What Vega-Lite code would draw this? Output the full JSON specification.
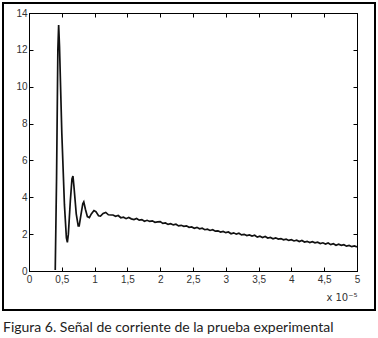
{
  "$schema": "https://vega.github.io/schema/vega-lite/v6.json",
  "width": 328,
  "height": 258,
  "autosize": "none",
  "padding": {"left": 29, "top": 13, "right": 21, "bottom": 67},
  "background": "white",
  "config": {
    "view": {"stroke": "black", "strokeWidth": 1},
    "axis": {"domainColor": "black", "tickColor": "black", "labelFont": "Liberation Sans", "labelFontSize": 10, "labelColor": "#333", "grid": false}
  },
  "title": {
    "text": "Figura 6. Señal de corriente de la prueba experimental",
    "orient": "bottom",
    "anchor": "start",
    "frame": "group",
    "dx": -26,
    "offset": 10,
    "font": "Lato",
    "fontSize": 14,
    "fontWeight": "normal",
    "color": "#222"
  },
  "data": {"values": [
    {"x": 0.400, "y": 0.05}, {"x": 0.420, "y": 5.0}, {"x": 0.440, "y": 12.0}, {"x": 0.452, "y": 13.35},
    {"x": 0.465, "y": 12.2}, {"x": 0.50, "y": 7.5}, {"x": 0.54, "y": 3.6}, {"x": 0.57, "y": 1.8},
    {"x": 0.585, "y": 1.55}, {"x": 0.60, "y": 2.0}, {"x": 0.63, "y": 3.8}, {"x": 0.655, "y": 5.0},
    {"x": 0.67, "y": 5.15}, {"x": 0.685, "y": 4.6}, {"x": 0.72, "y": 3.1}, {"x": 0.75, "y": 2.45},
    {"x": 0.765, "y": 2.45}, {"x": 0.79, "y": 3.0}, {"x": 0.82, "y": 3.65}, {"x": 0.835, "y": 3.75},
    {"x": 0.86, "y": 3.35}, {"x": 0.89, "y": 2.95}, {"x": 0.92, "y": 2.9}, {"x": 0.95, "y": 3.1},
    {"x": 0.99, "y": 3.28}, {"x": 1.02, "y": 3.22}, {"x": 1.06, "y": 3.0}, {"x": 1.09, "y": 2.98},
    {"x": 1.13, "y": 3.12}, {"x": 1.17, "y": 3.18}, {"x": 1.21, "y": 3.05}, {"x": 1.25, "y": 3.04},
    {"x": 1.28, "y": 3.04}, {"x": 1.32, "y": 2.97}, {"x": 1.36, "y": 3.01}, {"x": 1.40, "y": 2.89},
    {"x": 1.44, "y": 2.92}, {"x": 1.48, "y": 2.84}, {"x": 1.52, "y": 2.90}, {"x": 1.56, "y": 2.83},
    {"x": 1.60, "y": 2.79}, {"x": 1.64, "y": 2.85}, {"x": 1.68, "y": 2.76}, {"x": 1.72, "y": 2.79},
    {"x": 1.76, "y": 2.70}, {"x": 1.80, "y": 2.75}, {"x": 1.84, "y": 2.69}, {"x": 1.88, "y": 2.72},
    {"x": 1.92, "y": 2.64}, {"x": 1.96, "y": 2.67}, {"x": 2.00, "y": 2.68}, {"x": 2.04, "y": 2.58},
    {"x": 2.08, "y": 2.61}, {"x": 2.12, "y": 2.53}, {"x": 2.16, "y": 2.57}, {"x": 2.20, "y": 2.50},
    {"x": 2.24, "y": 2.54}, {"x": 2.28, "y": 2.45}, {"x": 2.32, "y": 2.48}, {"x": 2.36, "y": 2.42},
    {"x": 2.40, "y": 2.45}, {"x": 2.44, "y": 2.37}, {"x": 2.48, "y": 2.39}, {"x": 2.52, "y": 2.32},
    {"x": 2.56, "y": 2.37}, {"x": 2.60, "y": 2.29}, {"x": 2.64, "y": 2.32}, {"x": 2.68, "y": 2.24},
    {"x": 2.72, "y": 2.27}, {"x": 2.76, "y": 2.20}, {"x": 2.80, "y": 2.24}, {"x": 2.84, "y": 2.16},
    {"x": 2.88, "y": 2.18}, {"x": 2.92, "y": 2.11}, {"x": 2.96, "y": 2.15}, {"x": 3.00, "y": 2.08},
    {"x": 3.04, "y": 2.12}, {"x": 3.08, "y": 2.02}, {"x": 3.12, "y": 2.07}, {"x": 3.16, "y": 2.00},
    {"x": 3.20, "y": 2.05}, {"x": 3.24, "y": 1.96}, {"x": 3.28, "y": 1.99}, {"x": 3.32, "y": 1.92},
    {"x": 3.36, "y": 1.96}, {"x": 3.40, "y": 1.90}, {"x": 3.44, "y": 1.94}, {"x": 3.48, "y": 1.84},
    {"x": 3.52, "y": 1.89}, {"x": 3.56, "y": 1.82}, {"x": 3.60, "y": 1.87}, {"x": 3.64, "y": 1.79},
    {"x": 3.68, "y": 1.82}, {"x": 3.72, "y": 1.75}, {"x": 3.76, "y": 1.80}, {"x": 3.80, "y": 1.73},
    {"x": 3.84, "y": 1.76}, {"x": 3.88, "y": 1.69}, {"x": 3.92, "y": 1.73}, {"x": 3.96, "y": 1.66},
    {"x": 4.00, "y": 1.70}, {"x": 4.04, "y": 1.63}, {"x": 4.08, "y": 1.67}, {"x": 4.12, "y": 1.60},
    {"x": 4.16, "y": 1.66}, {"x": 4.20, "y": 1.57}, {"x": 4.24, "y": 1.61}, {"x": 4.28, "y": 1.54},
    {"x": 4.32, "y": 1.59}, {"x": 4.36, "y": 1.53}, {"x": 4.40, "y": 1.56}, {"x": 4.44, "y": 1.49},
    {"x": 4.48, "y": 1.53}, {"x": 4.52, "y": 1.46}, {"x": 4.56, "y": 1.52}, {"x": 4.60, "y": 1.43},
    {"x": 4.64, "y": 1.48}, {"x": 4.68, "y": 1.40}, {"x": 4.72, "y": 1.45}, {"x": 4.76, "y": 1.39},
    {"x": 4.80, "y": 1.43}, {"x": 4.84, "y": 1.35}, {"x": 4.88, "y": 1.39}, {"x": 4.92, "y": 1.32},
    {"x": 4.96, "y": 1.36}, {"x": 5.00, "y": 1.31}
  ]},
  "resolve": {"axis": {"x": "independent", "y": "independent"}},
  "layer": [
    {
      "mark": {"type": "line", "color": "#111", "strokeWidth": 1.7, "clip": true},
      "encoding": {
        "x": {"field": "x", "type": "quantitative",
              "scale": {"domain": [0, 5], "nice": false, "zero": false},
              "axis": {"orient": "bottom", "values": [0, 0.5, 1, 1.5, 2, 2.5, 3, 3.5, 4, 4.5, 5], "format": ".1~f", "labelExpr": "replace(datum.label, '.', ',')", "tickSize": -4, "labelPadding": 7, "labelFlush": false, "labelOverlap": false, "title": "x 10⁻⁵", "titleFont": "DejaVu Sans", "titleFontSize": 10, "titleFontWeight": "normal", "titleColor": "#333", "titleAnchor": "end", "titleAlign": "right", "titlePadding": 8}},
        "y": {"field": "y", "type": "quantitative",
              "scale": {"domain": [0, 14], "nice": false, "zero": false},
              "axis": {"orient": "left", "values": [0, 2, 4, 6, 8, 10, 12, 14], "tickSize": -4, "labelPadding": 6, "labelFlush": false, "title": null}}
      }
    },
    {
      "mark": {"type": "line", "opacity": 0},
      "encoding": {
        "x": {"field": "x", "type": "quantitative",
              "axis": {"orient": "top", "values": [0, 0.5, 1, 1.5, 2, 2.5, 3, 3.5, 4, 4.5, 5], "tickSize": -4, "labels": false, "title": null}},
        "y": {"field": "y", "type": "quantitative",
              "axis": {"orient": "right", "values": [0, 2, 4, 6, 8, 10, 12, 14], "tickSize": -4, "labels": false, "title": null}}
      }
    },
    {
      "mark": {"type": "rect", "fill": null, "stroke": "black", "strokeWidth": 1, "clip": false},
      "encoding": {
        "x": {"datum": -0.396, "type": "quantitative", "axis": null},
        "x2": {"datum": 5.274},
        "y": {"datum": 14.565, "type": "quantitative", "axis": null},
        "y2": {"datum": -2.12}
      }
    }
  ]
}
